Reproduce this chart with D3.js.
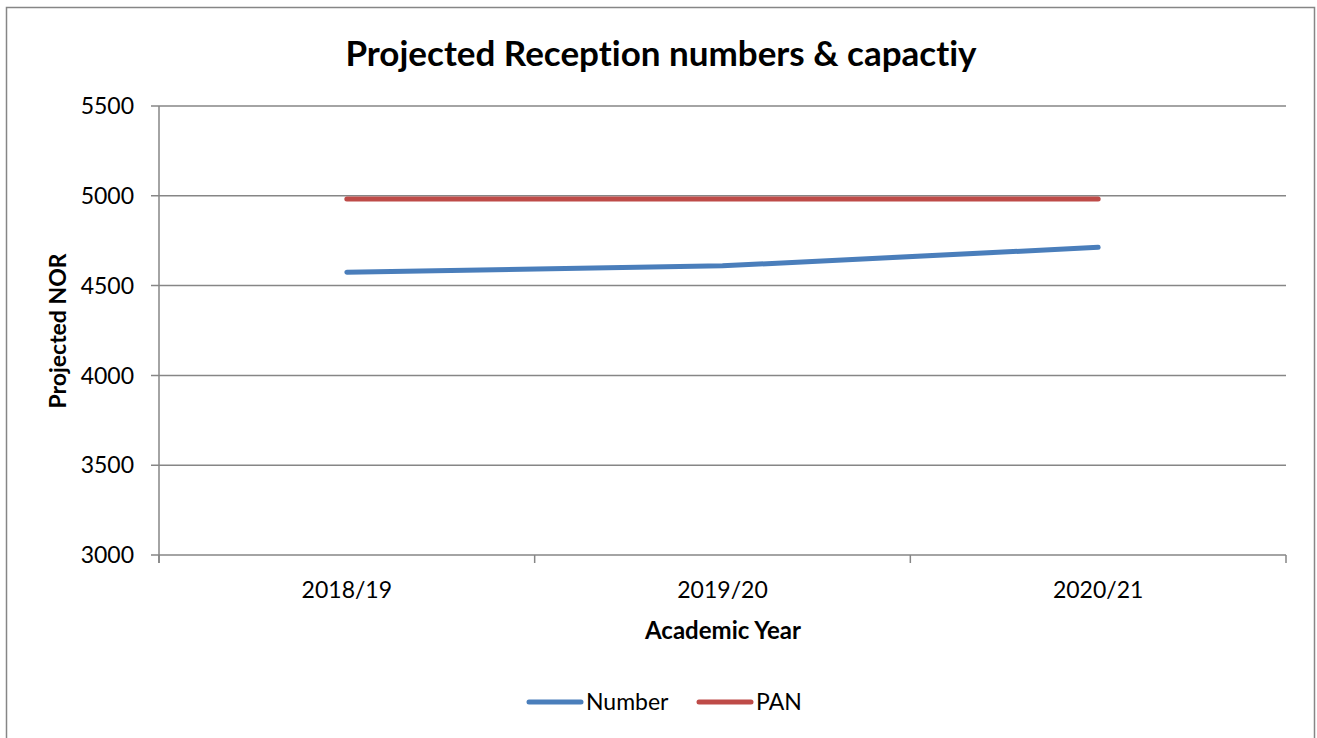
<!DOCTYPE html>
<html><head><meta charset="utf-8">
<script src="https://cdn.jsdelivr.net/npm/d3@7"></script>
<style>body{margin:0;background:#fff;font-family:Lato,"Open Sans",sans-serif} text{font-variant-ligatures:none}</style>
</head><body><svg id="c" width="1317" height="738"></svg>
<script>
const categories = ["2018/19","2019/20","2020/21"];
const numberValues = [4575, 4610, 4713];
const panValues = [4982, 4982, 4982];
const yTicks = [3000,3500,4000,4500,5000,5500];
const seriesNames = ["Number","PAN"];
const colors = ["#4A7EBB","#BE4B48"];

const svg = d3.select("#c");
const font = "Lato, 'Open Sans', sans-serif";
svg.append("rect").attr("x",6.5).attr("y",7.5).attr("width",1308).attr("height",740)
  .attr("fill","#fff").attr("stroke","#868686").attr("stroke-width",1.5);

const L=159, R=1286, T=106, B=555;
const x = d3.scaleBand().domain(categories).range([L,R]);
const y = d3.scaleLinear().domain([3000,5500]).range([B,T]);

const g = svg.append("g");
g.selectAll("line.grid").data(yTicks).join("line")
  .attr("x1",L-8).attr("x2",R).attr("y1",d=>y(d)).attr("y2",d=>y(d))
  .attr("stroke","#868686").attr("stroke-width",1.5);
g.append("line").attr("x1",L).attr("x2",L).attr("y1",T).attr("y2",B+8).attr("stroke","#868686").attr("stroke-width",1.5);
const bounds = categories.map(c=>x(c)).concat([R]);
g.selectAll("line.xt").data(bounds).join("line")
  .attr("x1",d=>d).attr("x2",d=>d).attr("y1",B).attr("y2",B+8)
  .attr("stroke","#868686").attr("stroke-width",1.5);
g.selectAll("text.yl").data(yTicks).join("text")
  .attr("x",134).attr("y",d=>y(d)).attr("dy","0.36em").attr("text-anchor","end")
  .attr("font-family",font).attr("font-size",23).attr("fill","#000").text(d=>d);
g.selectAll("text.xl").data(categories).join("text")
  .attr("x",d=>x(d)+x.bandwidth()/2).attr("y",598).attr("text-anchor","middle")
  .attr("font-family",font).attr("font-size",23).attr("fill","#000").text(d=>d);

const line = d3.line().x((d,i)=>x(categories[i])+x.bandwidth()/2).y(d=>y(d));
[numberValues, panValues].forEach((vals,i)=>{
  g.append("path").datum(vals).attr("d",line).attr("fill","none")
   .attr("stroke",colors[i]).attr("stroke-width",5).attr("stroke-linecap","round").attr("stroke-linejoin","round");
});

svg.append("text").attr("x",661).attr("y",66).attr("text-anchor","middle")
  .attr("font-family",font).attr("font-weight","bold").attr("font-size",35).text("Projected Reception numbers & capactiy");
svg.append("text").attr("x",723).attr("y",639).attr("text-anchor","middle")
  .attr("font-family",font).attr("font-weight","bold").attr("font-size",24).text("Academic Year");
svg.append("text").attr("transform","translate(66,331) rotate(-90)").attr("text-anchor","middle")
  .attr("font-family",font).attr("font-weight","bold").attr("font-size",23).text("Projected NOR");

const legX = [529, 699];
seriesNames.forEach((n,i)=>{
  svg.append("line").attr("x1",legX[i]).attr("x2",legX[i]+52).attr("y1",702).attr("y2",702)
    .attr("stroke",colors[i]).attr("stroke-width",5).attr("stroke-linecap","round");
  svg.append("text").attr("x",legX[i]+57).attr("y",702).attr("dy","0.36em")
    .attr("font-family",font).attr("font-size",23).text(n);
});
</script></body></html>
